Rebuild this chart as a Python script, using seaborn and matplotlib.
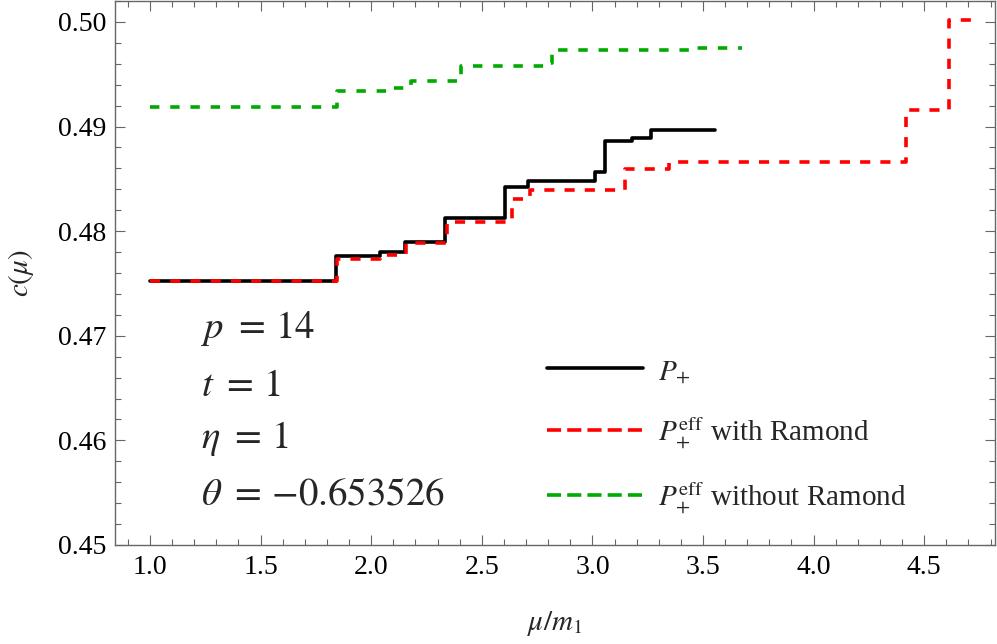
import numpy as np
import pandas as pd
import matplotlib
matplotlib.use("Agg")
import matplotlib.pyplot as plt
from matplotlib.lines import Line2D
from matplotlib.ticker import MultipleLocator, FormatStrFormatter
import seaborn as sns

# ---- data ----
black_x = [1.0, 1.842, 2.039, 2.152, 2.333, 2.605, 2.707, 3.012, 3.058, 3.178, 3.266, 3.553]
black_y = [0.4752, 0.4776, 0.4780, 0.4790, 0.4813, 0.4842, 0.4848, 0.4857, 0.4886, 0.4889, 0.4897, 0.4897]

red_x = [1.0, 1.845, 2.040, 2.159, 2.341, 2.635, 2.718, 3.148, 3.345, 4.416, 4.610, 4.730]
red_y = [0.4752, 0.4773, 0.4777, 0.4789, 0.4809, 0.4831, 0.4839, 0.4859, 0.4866, 0.4916, 0.5002, 0.5002]

green_x = [1.0, 1.845, 2.094, 2.182, 2.406, 2.790, 2.818, 3.444, 3.677]
green_y = [0.4919, 0.4934, 0.4937, 0.4944, 0.4958, 0.4961, 0.4973, 0.4975, 0.4975]

legend_labels = [r"$P_{+}$",
                 r"$P_{+}^{\mathrm{eff}}$ with Ramond",
                 r"$P_{+}^{\mathrm{eff}}$ without Ramond"]
param_texts = [r"$p\,\,=\,14$", r"$t\,\,=\,1$", r"$\eta\,\,=\,1$",
               r"$\theta\,\,=\,{-}0.653526$"]

sns.set_style("ticks")
plt.rcParams["font.family"] = ["Liberation Serif", "DejaVu Serif"]
plt.rcParams["mathtext.fontset"] = "stix"

fig = plt.figure(figsize=(9.97, 6.44), dpi=100)
ax = fig.add_axes([115 / 997, 1 - 545 / 644, 880 / 997, 544 / 644])

LW = 2.6
RED = "#ff0000"
GREEN = "#00aa00"

sns.lineplot(x=black_x, y=black_y, ax=ax, color="black", linewidth=LW,
             drawstyle="steps-post", estimator=None, sort=False, legend=False)
sns.lineplot(x=red_x, y=red_y, ax=ax, color=RED, linewidth=LW, linestyle=(0, (2.8, 2.8)),
             drawstyle="steps-post", estimator=None, sort=False, legend=False)
sns.lineplot(x=green_x, y=green_y, ax=ax, color=GREEN, linewidth=LW, linestyle=(0, (2.6, 3.0)),
             drawstyle="steps-post", estimator=None, sort=False, legend=False)

ax.set_xlim(0.842, 4.82)
ax.set_ylim(0.45, 0.502)

ax.xaxis.set_major_locator(MultipleLocator(0.5))
ax.xaxis.set_minor_locator(MultipleLocator(0.1))
ax.yaxis.set_major_locator(MultipleLocator(0.01))
ax.yaxis.set_minor_locator(MultipleLocator(0.002))
ax.xaxis.set_major_formatter(FormatStrFormatter("%.1f"))
ax.yaxis.set_major_formatter(FormatStrFormatter("%.2f"))

FRAME = "#666666"
for s in ax.spines.values():
    s.set_visible(True)
    s.set_color(FRAME)
    s.set_linewidth(1.0)

ax.tick_params(which="both", direction="in", top=True, right=True,
               color=FRAME, width=0.8, labelsize=20, labelcolor="black")
ax.tick_params(which="major", length=7)
ax.tick_params(which="minor", length=4)
ax.tick_params(axis="x", which="major", pad=7)
ax.tick_params(axis="y", which="major", pad=6)

ax.set_xlabel(r"$\mu/m_1$", fontsize=21)
ax.set_ylabel(r"$c(\mu)$", fontsize=21)
ax.xaxis.set_label_coords(0.5, -0.118)
ax.yaxis.set_label_coords(-0.09, 0.5)

# parameter annotations
ys = [0.380, 0.274, 0.179, 0.075]
for t, yy in zip(param_texts, ys):
    ax.text(0.098, yy, t, transform=ax.transAxes, fontsize=28,
            va="baseline", ha="left")

handles = [
    Line2D([], [], color="black", linewidth=LW),
    Line2D([], [], color=RED, linewidth=LW, linestyle=(0, (3.9, 1.7))),
    Line2D([], [], color=GREEN, linewidth=LW, linestyle=(0, (3.9, 1.7))),
]
ax.legend(handles, legend_labels, loc="center left", bbox_to_anchor=(0.491, 0.199),
          frameon=False, fontsize=21, handlelength=3.3, handletextpad=0.5,
          labelspacing=1.05, borderpad=0, borderaxespad=0)

fig.savefig("out.png", dpi=100)
